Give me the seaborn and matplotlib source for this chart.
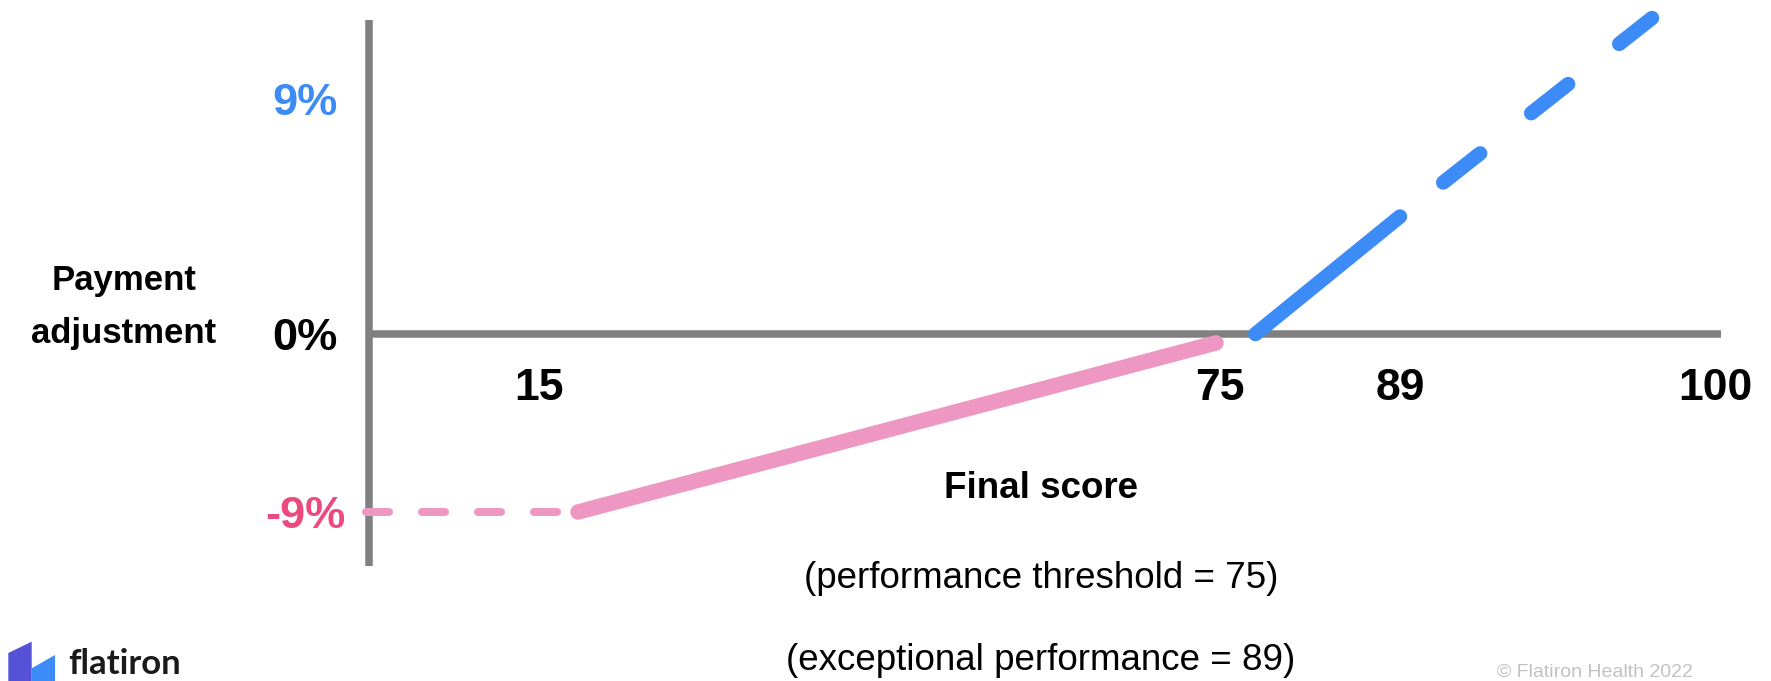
import numpy as np
import pandas as pd
import matplotlib
matplotlib.use("Agg")
import matplotlib.pyplot as plt
import matplotlib.transforms as mtransforms
from matplotlib.patches import Polygon
import seaborn as sns

# ---------------- data ----------------
penalty_floor_x = [0, 15]          # scores 0-15 -> -9 %
penalty_floor_y = [-9, -9]
penalty_slope_x = [15, 75]         # linear scale up to threshold
penalty_slope_y = [-9, -0.45]
bonus_x = [78, 89]                 # positive adjustment
bonus_y = [0, 4.5]
exceptional_x = [89, 100]          # exceptional performance (dashed)
exceptional_y = [4.5, 12.1]

x_ticks = [15, 75, 89, 100]
x_tick_labels = ["15", "75", "89", "100"]
y_ticks = [-9, 0, 9]
y_tick_labels = ["-9%", "0%", "9%"]

# ---------------- style ----------------
PINK = "#ee97c3"
PINK_TEXT = "#ec4a7e"
BLUE = "#3d8bf6"
GREY = "#808080"
PURPLE = "#5552d8"

W, H = 1771, 681

sns.set_theme(style="white")
plt.rcParams["font.family"] = ["Liberation Sans", "DejaVu Sans"]
plt.rcParams["lines.scale_dashes"] = False

# schematic (piecewise-linear) scales, in figure pixels
X_SCORE_KNOTS = [-100, 0, 15, 75, 89, 100, 200]
X_PX_KNOTS = [-1047, 366, 578, 1216, 1400, 1652, 3943]
Y_VAL_KNOTS = [-100, -9, 0, 9, 100]
Y_PX_KNOTS = [-1631, 169, 347, 582, 2958]   # pixels measured from bottom


def fwd_x(v):
    return np.interp(v, X_SCORE_KNOTS, X_PX_KNOTS)


def inv_x(p):
    return np.interp(p, X_PX_KNOTS, X_SCORE_KNOTS)


def fwd_y(v):
    return np.interp(v, Y_VAL_KNOTS, Y_PX_KNOTS)


def inv_y(p):
    return np.interp(p, Y_PX_KNOTS, Y_VAL_KNOTS)


def fx(px):
    return px / W


def fy(py):
    return 1 - py / H


PT = 72 / 100  # points per pixel at dpi 100

fig = plt.figure(figsize=(W / 100, H / 100), dpi=100)
ax_left, ax_right, ax_top, ax_bottom = 369, 1721, 20, 566
ax = fig.add_axes([fx(ax_left), fy(ax_bottom), (ax_right - ax_left) / W,
                   (ax_bottom - ax_top) / H])

# ---------------- lines ----------------
sns.lineplot(x=penalty_floor_x, y=penalty_floor_y, ax=ax, color=PINK,
             linewidth=8 * PT, linestyle=(0, (23 * PT, 33 * PT)),
             dash_capstyle="round", solid_capstyle="round", clip_on=False,
             zorder=5)
sns.lineplot(x=penalty_slope_x, y=penalty_slope_y, ax=ax, color=PINK,
             linewidth=15.5 * PT, solid_capstyle="round", clip_on=False,
             zorder=5)
sns.lineplot(x=bonus_x, y=bonus_y, ax=ax, color=BLUE,
             linewidth=14.5 * PT, solid_capstyle="round", clip_on=False,
             zorder=5)
sns.lineplot(x=exceptional_x, y=exceptional_y, ax=ax, color=BLUE,
             linewidth=14.5 * PT,
             linestyle=(57 * PT, (47 * PT, 65 * PT)),
             dash_capstyle="round", clip_on=False, zorder=5)

ax.set_xscale("function", functions=(fwd_x, inv_x))
ax.set_yscale("function", functions=(fwd_y, inv_y))
ax.set_xlim(inv_x(ax_left), inv_x(ax_right))
ax.set_ylim(inv_y(H - ax_bottom), inv_y(H - ax_top))

# ---------------- axes ----------------
for s in ["top", "right"]:
    ax.spines[s].set_visible(False)
for s in ["left", "bottom"]:
    ax.spines[s].set_color(GREY)
    ax.spines[s].set_linewidth(7.5 * PT)
    ax.spines[s].set_capstyle("butt")
ax.spines["bottom"].set_position(("data", 0))
ax.spines["left"].set_zorder(3)
ax.spines["bottom"].set_zorder(3)
ax.grid(False)

ax.set_xticks(x_ticks, x_tick_labels, fontsize=32, fontweight="bold")
ax.set_yticks(y_ticks, y_tick_labels, fontsize=32.5, fontweight="bold")
ax.tick_params(axis="both", length=0)
ax.tick_params(axis="x", pad=24.5, colors="black")
ax.tick_params(axis="y", pad=46)
ax.xaxis.set_minor_locator(matplotlib.ticker.NullLocator())
ax.yaxis.set_minor_locator(matplotlib.ticker.NullLocator())

x_label_shift_px = {"15": -39, "75": 4, "89": 0, "100": 63}
for lbl in ax.get_xticklabels():
    dx = x_label_shift_px.get(lbl.get_text(), 0) / 100
    lbl.set_transform(lbl.get_transform()
                      + mtransforms.ScaledTranslation(dx, 0, fig.dpi_scale_trans))
    lbl.set_color("black")

y_label_colors = {"-9%": PINK_TEXT, "0%": "black", "9%": BLUE}
for lbl in ax.get_yticklabels():
    lbl.set_horizontalalignment("center")
    lbl.set_color(y_label_colors[lbl.get_text()])

ax.set_ylabel("Payment\nadjustment", rotation=0, fontsize=25,
              fontweight="bold", ha="center", va="center", linespacing=1.77,
              color="black")
ax.yaxis.set_label_coords((124 - ax_left) / (ax_right - ax_left),
                          (ax_bottom - 307) / (ax_bottom - ax_top))
ax.set_xlabel("Final score", fontsize=26.5, fontweight="bold", ha="center",
              va="center", color="black")
ax.xaxis.set_label_coords((1041 - ax_left) / (ax_right - ax_left),
                          (ax_bottom - 488) / (ax_bottom - ax_top))

fig.text(fx(1041), fy(578), "(performance threshold = 75)", fontsize=26.5,
         ha="center", va="center", color="black")
fig.text(fx(1041), fy(660), "(exceptional performance = 89)", fontsize=26.5,
         ha="center", va="center", color="black")
fig.text(fx(1595), fy(677), "\u00a9 Flatiron Health 2022", fontsize=14,
         ha="center", va="baseline", color="#c2c2c2")

# ---------------- logo ----------------
def px_poly(points, color):
    pts = [(fx(x), fy(y)) for x, y in points]
    fig.patches.append(Polygon(pts, closed=True, transform=fig.transFigure,
                               facecolor=color, edgecolor="none"))


px_poly([(8.3, 653), (31.7, 641.7), (31.7, 681), (8.3, 681)], PURPLE)
px_poly([(31.7, 668.3), (55, 655), (55, 681), (31.7, 681)], BLUE)
fig.text(fx(68), fy(674), "flatiron", fontsize=25, fontweight="bold",
         family=["Lato", "DejaVu Sans"], ha="left", va="baseline",
         color="#1a1a1a")

fig.savefig("out.png", dpi=100)
